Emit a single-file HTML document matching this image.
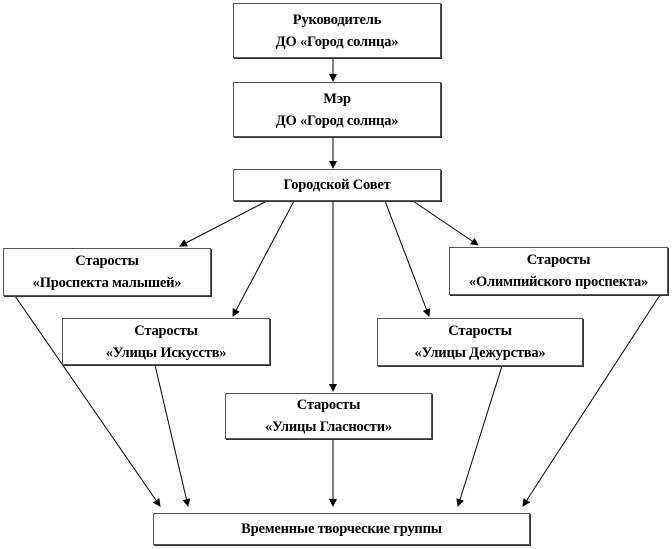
<!DOCTYPE html>
<html><head><meta charset="utf-8"><style>
body{margin:0;background:#fff;width:672px;height:549px;overflow:hidden;position:relative;font-family:"Liberation Serif",serif;}
.b{position:absolute;box-sizing:border-box;border:1px solid #555;background:#fff;display:flex;align-items:center;justify-content:center;text-align:center;font-weight:bold;font-size:14.5px;line-height:22px;color:#000;box-shadow:1px 1px 0 #333;letter-spacing:-0.2px;}
svg{position:absolute;left:0;top:0}
</style></head><body>
<svg width="672" height="549">
<defs><marker id="a" markerWidth="8" markerHeight="8" refX="7" refY="4" orient="auto" markerUnits="userSpaceOnUse"><path d="M0,0 L8,4 L0,8z" fill="#000"/></marker></defs>
<g stroke="#000" stroke-width="1" fill="none" marker-end="url(#a)">
<line x1="333" y1="58" x2="333" y2="81"/>
<line x1="333" y1="137" x2="333" y2="168"/>
<line x1="267" y1="201" x2="180" y2="246"/>
<line x1="294" y1="201" x2="233" y2="316"/>
<line x1="333" y1="201" x2="333" y2="391"/>
<line x1="385" y1="201" x2="429" y2="316"/>
<line x1="413" y1="201" x2="478" y2="245"/>
<line x1="15" y1="296" x2="160" y2="506"/>
<line x1="155" y1="365" x2="188" y2="506"/>
<line x1="333" y1="439" x2="333" y2="506"/>
<line x1="502" y1="366" x2="458" y2="506"/>
<line x1="660" y1="295" x2="523" y2="506"/>
</g></svg>
<div class="b" style="left:233px;top:3px;width:208px;height:55px">Руководитель<br>ДО «Город солнца»</div>
<div class="b" style="left:233px;top:82px;width:208px;height:55px">Мэр<br>ДО «Город солнца»</div>
<div class="b" style="left:233px;top:169px;width:208px;height:32px">Городской Совет</div>
<div class="b" style="left:3px;top:248px;width:208px;height:48px">Старосты<br>«Проспекта малышей»</div>
<div class="b" style="left:449px;top:247px;width:219px;height:48px">Старосты<br>«Олимпийского проспекта»</div>
<div class="b" style="left:62px;top:318px;width:208px;height:47px">Старосты<br>«Улицы Искусств»</div>
<div class="b" style="left:377px;top:318px;width:206px;height:48px">Старосты<br>«Улицы Дежурства»</div>
<div class="b" style="left:225px;top:393px;width:207px;height:46px">Старосты<br>«Улицы Гласности»</div>
<div class="b" style="left:153px;top:513px;width:377px;height:32px">Временные творческие группы</div>
</body></html>
